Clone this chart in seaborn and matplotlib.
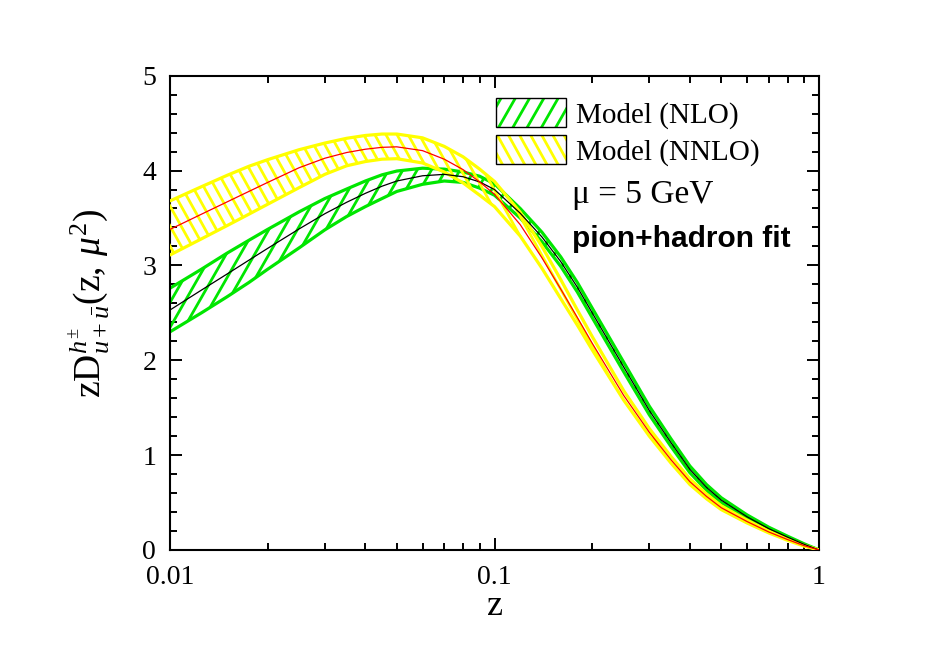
import numpy as np
import pandas as pd
import matplotlib
matplotlib.use("Agg")
import matplotlib.pyplot as plt
import matplotlib.hatch as mhatch
from matplotlib.path import Path
import seaborn as sns
from matplotlib.patches import Patch
from matplotlib.legend_handler import HandlerTuple
from matplotlib.ticker import FixedLocator, FixedFormatter, NullFormatter, MultipleLocator

# ---------------- data ----------------
z = [0.01, 0.0125, 0.015, 0.0175, 0.02, 0.025, 0.03, 0.035, 0.04, 0.045,
     0.05, 0.06, 0.07, 0.08, 0.09, 0.1, 0.12, 0.14, 0.16, 0.18, 0.2,
     0.25, 0.3, 0.35, 0.4, 0.45, 0.5, 0.6, 0.7, 0.8, 0.9, 1.0]

nlo_central = [2.53, 2.74, 2.91, 3.055, 3.18, 3.385, 3.545, 3.665, 3.76, 3.835,
               3.89, 3.945, 3.96, 3.935, 3.88, 3.80, 3.55, 3.30, 3.04, 2.77, 2.50,
               1.93, 1.47, 1.13, 0.85, 0.66, 0.525, 0.35, 0.225, 0.135, 0.06, 0.0]
nlo_upper = [2.76, 2.96, 3.13, 3.265, 3.38, 3.565, 3.705, 3.805, 3.89, 3.955,
             3.995, 4.025, 4.015, 3.985, 3.94, 3.86, 3.60, 3.35, 3.09, 2.82, 2.55,
             1.98, 1.515, 1.17, 0.885, 0.69, 0.55, 0.37, 0.24, 0.145, 0.065, 0.0]
nlo_lower = [2.30, 2.50, 2.67, 2.82, 2.96, 3.185, 3.375, 3.515, 3.62, 3.705,
             3.78, 3.855, 3.89, 3.875, 3.815, 3.74, 3.50, 3.25, 2.99, 2.72, 2.45,
             1.88, 1.425, 1.09, 0.815, 0.63, 0.50, 0.33, 0.21, 0.125, 0.05, 0.0]

nnlo_central = [3.38, 3.54, 3.67, 3.78, 3.875, 4.03, 4.13, 4.19, 4.225, 4.245,
                4.25, 4.21, 4.12, 4.01, 3.88, 3.75, 3.43, 3.08, 2.75, 2.45, 2.18,
                1.63, 1.24, 0.95, 0.72, 0.565, 0.445, 0.30, 0.19, 0.11, 0.045, 0.0]
nnlo_upper = [3.68, 3.83, 3.95, 4.045, 4.115, 4.22, 4.29, 4.34, 4.37, 4.385,
              4.385, 4.345, 4.255, 4.145, 4.015, 3.885, 3.56, 3.20, 2.85, 2.53, 2.25,
              1.68, 1.28, 0.985, 0.75, 0.59, 0.465, 0.315, 0.20, 0.118, 0.05, 0.0]
nnlo_lower = [3.11, 3.28, 3.42, 3.54, 3.645, 3.82, 3.96, 4.05, 4.095, 4.12,
              4.125, 4.08, 3.985, 3.87, 3.74, 3.62, 3.31, 2.97, 2.65, 2.37, 2.11,
              1.58, 1.20, 0.915, 0.69, 0.54, 0.425, 0.285, 0.18, 0.102, 0.04, 0.0]

labels = ["Model (NLO)", "Model (NNLO)"]
x_ticks = [0.01, 0.1, 1]
x_tick_labels = ["0.01", "0.1", "1"]
y_ticks = [0, 1, 2, 3, 4, 5]

GREEN = "#00e600"
YELLOW = "#ffff00"


# ---------------- steep hatch patterns (style only) ----------------
def make_steep(char, lines_per_char, shift, sign):
    class Steep(mhatch.HatchPatternBase):
        def __init__(self, hatch, density):
            self.n = lines_per_char * hatch.count(char)
            self.num_vertices = 0
            if self.n:
                self.ks = list(range(-shift - 3, self.n + shift + 4))
                self.num_vertices = 2 * len(self.ks)

        def set_vertices_and_codes(self, vertices, codes):
            n = self.n
            dxu = shift / n
            for i, k in enumerate(self.ks):
                x0 = k / n
                if sign > 0:
                    xa, xb = x0 - 0.5 * dxu, x0 + 1.5 * dxu
                else:
                    xa, xb = x0 + 0.5 * dxu, x0 - 1.5 * dxu
                vertices[2 * i] = (xa, -0.5)
                vertices[2 * i + 1] = (xb, 1.5)
                codes[2 * i] = Path.MOVETO
                codes[2 * i + 1] = Path.LINETO
    return Steep


mhatch._hatch_types = [make_steep("/", 7, 4, 1), make_steep("\\", 9, 5, -1)]

# ---------------- style ----------------
sns.set_style("ticks")
plt.rcParams["font.family"] = ["Liberation Serif", "DejaVu Serif"]
plt.rcParams["mathtext.fontset"] = "custom"
plt.rcParams["mathtext.rm"] = "Liberation Serif"
plt.rcParams["mathtext.it"] = "Liberation Serif:italic"
plt.rcParams["mathtext.bf"] = "Liberation Serif:bold"
plt.rcParams["hatch.linewidth"] = 2.0
for key in ("text.color", "axes.labelcolor", "xtick.color", "ytick.color",
            "axes.edgecolor"):
    plt.rcParams[key] = "black"

fig = plt.figure(figsize=(9.52, 6.6), dpi=100)
ax = fig.add_axes([0.1786, 0.1667, 0.6817, 0.7186])

# bands
ax.fill_between(z, nlo_lower, nlo_upper, facecolor="none", edgecolor=GREEN,
                hatch="/", linewidth=0, zorder=1)
band_nlo = pd.DataFrame({"z": z * 2, "y": nlo_upper + nlo_lower,
                         "edge": ["u"] * len(z) + ["l"] * len(z)})
sns.lineplot(data=band_nlo, x="z", y="y", units="edge", estimator=None,
             color=GREEN, lw=2.3, ax=ax, zorder=2)

ax.fill_between(z, nnlo_lower, nnlo_upper, facecolor="none", edgecolor=YELLOW,
                hatch="\\", linewidth=0, zorder=3)
band_nnlo = pd.DataFrame({"z": z * 2, "y": nnlo_upper + nnlo_lower,
                          "edge": ["u"] * len(z) + ["l"] * len(z)})
sns.lineplot(data=band_nnlo, x="z", y="y", units="edge", estimator=None,
             color=YELLOW, lw=2.3, ax=ax, zorder=4)

central = pd.DataFrame({"z": z * 2, "y": nlo_central + nnlo_central,
                        "model": ["NLO"] * len(z) + ["NNLO"] * len(z)})
sns.lineplot(data=central, x="z", y="y", hue="model",
             palette={"NLO": "black", "NNLO": "red"}, lw=0.9,
             legend=False, ax=ax, zorder=5)

# axes
ax.set_xscale("log")
ax.set_xlim(0.01, 1)
ax.set_ylim(0, 5)
ax.xaxis.set_major_locator(FixedLocator(x_ticks))
ax.xaxis.set_major_formatter(FixedFormatter(x_tick_labels))
minor = [m * d for d in (0.01, 0.1) for m in range(2, 10)]
ax.xaxis.set_minor_locator(FixedLocator(minor))
ax.xaxis.set_minor_formatter(NullFormatter())
ax.yaxis.set_major_locator(FixedLocator(y_ticks))
ax.yaxis.set_minor_locator(MultipleLocator(0.2))
ax.tick_params(which="both", direction="in", top=True, right=True,
               width=1.4, labelsize=20, colors="black")
ax.tick_params(which="major", length=8.5)
ax.tick_params(which="minor", length=5)
ax.tick_params(axis="x", pad=11)
ax.tick_params(axis="y", pad=10)
for sp in ax.spines.values():
    sp.set_linewidth(1.5)
    sp.set_color("black")

ax.set_xlabel("z", fontsize=26, labelpad=0)
ax.set_ylabel(r"$\mathrm{zD}^{h^{\pm}}_{u+\bar{u}}(\mathrm{z},\,\mu^{2})$",
              fontsize=27, labelpad=14)
ax.yaxis.set_label_coords(-0.09, 0.52)

# legend
h_nlo = (Patch(facecolor="none", edgecolor=GREEN, hatch="/", linewidth=0),
         Patch(facecolor="none", edgecolor="black", linewidth=1.0))
h_nnlo = (Patch(facecolor="none", edgecolor=YELLOW, hatch="\\", linewidth=0),
          Patch(facecolor="none", edgecolor="black", linewidth=1.0))
leg = ax.legend([h_nlo, h_nnlo], labels,
                handler_map={tuple: HandlerTuple(ndivide=1, pad=0)},
                loc="upper left", bbox_to_anchor=(0.502, 0.952),
                frameon=False, fontsize=21, borderpad=0, borderaxespad=0,
                handlelength=2.4, handleheight=1.15, handletextpad=0.35,
                labelspacing=0.2)

ax.text(0.619, 0.748, "\u03bc = 5 GeV", transform=ax.transAxes,
        fontsize=24, va="center", ha="left")
ax.text(0.619, 0.655, "pion+hadron fit", transform=ax.transAxes,
        fontsize=21.5, fontweight="bold", family=["Liberation Sans", "DejaVu Sans"],
        va="center", ha="left")

fig.savefig("out.png", dpi=100)
